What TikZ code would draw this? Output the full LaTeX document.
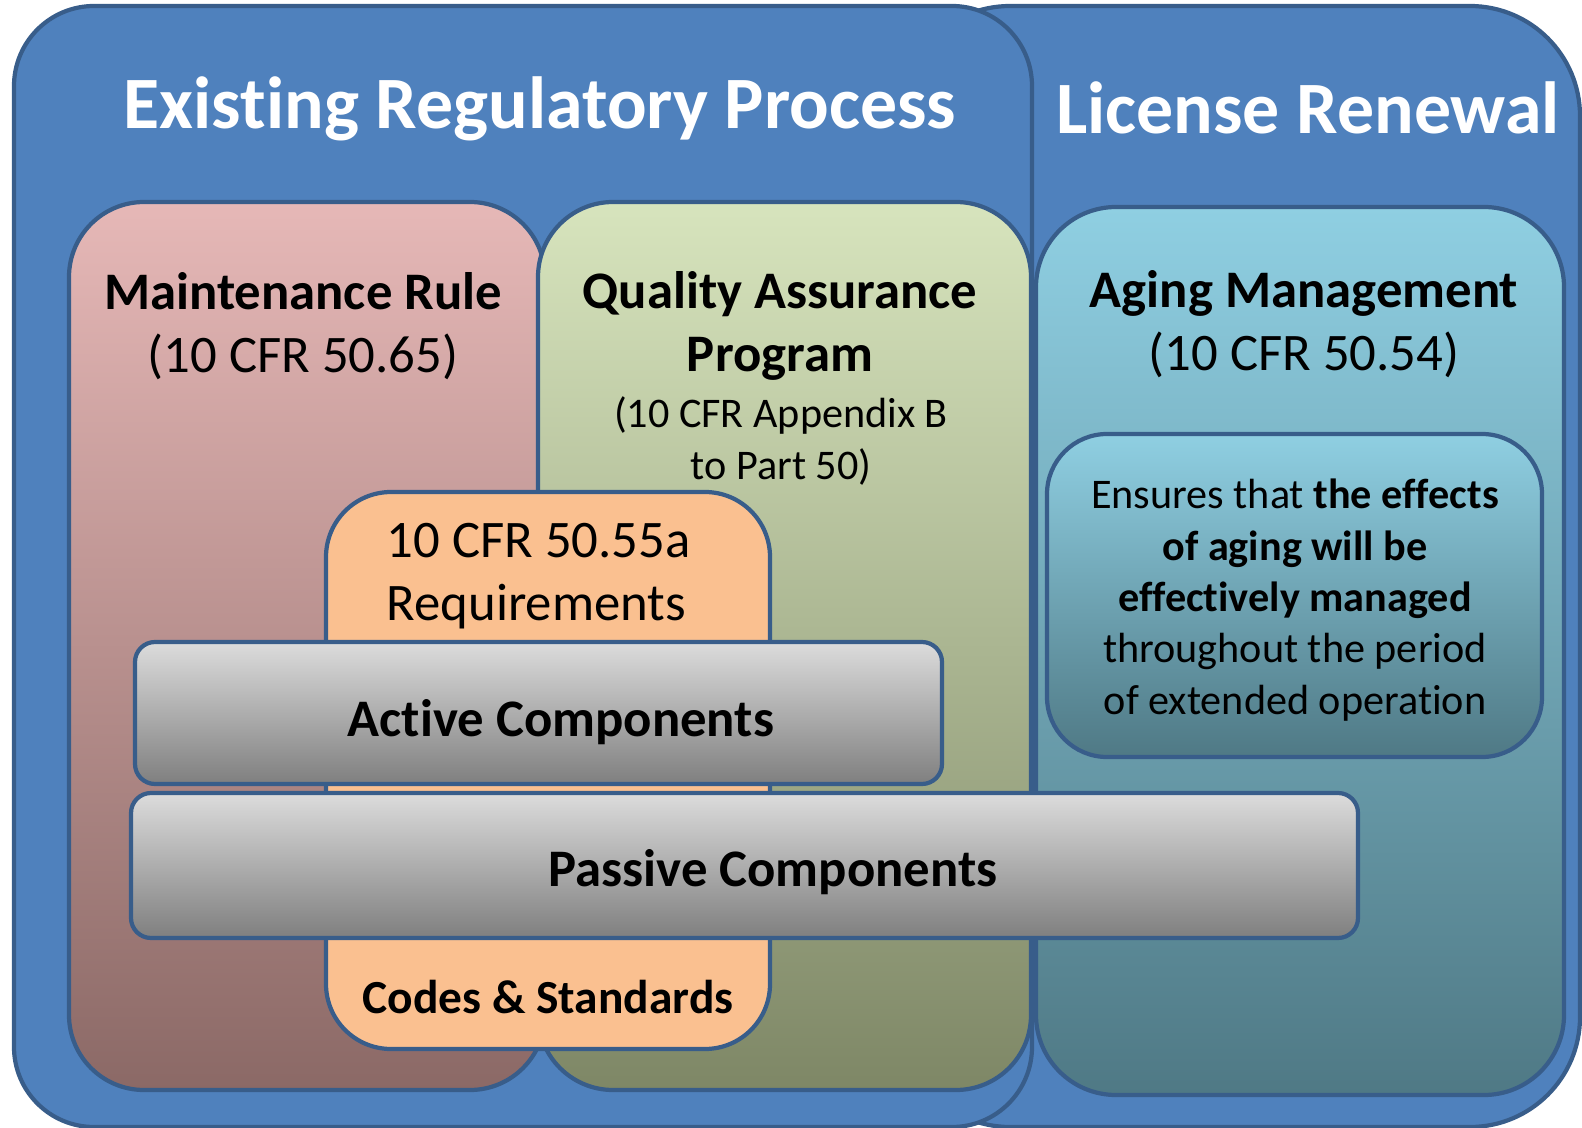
\documentclass[tikz,border=0pt]{standalone}
\usepackage{fontspec}
\setmainfont[Ligatures=NoCommon]{Carlito}
\definecolor{frame}{HTML}{385D8A}
\definecolor{panelblue}{HTML}{4F81BD}
\definecolor{mrTop}{HTML}{E6B8B7}
\definecolor{mrBot}{HTML}{8B6966}
\definecolor{qaTop}{HTML}{D7E4BD}
\definecolor{qaBot}{HTML}{7E8766}
\definecolor{amTop}{HTML}{8FCFE2}
\definecolor{amBot}{HTML}{4F7985}
\definecolor{barTop}{HTML}{DCDCDC}
\definecolor{barBot}{HTML}{7F7F7F}
\definecolor{reqfill}{HTML}{FAC090}
\newcommand{\bigtitle}{\fontsize{21}{25}\selectfont\bfseries}
\newcommand{\headfont}{\fontsize{15}{17.9}\selectfont}
\newcommand{\smallfont}{\fontsize{12}{14.6}\selectfont}
\begin{document}
\begin{tikzpicture}[x=0.01cm, y=-0.01cm,
    panel/.style={draw=frame, line width=1.2pt},
    bluepanel/.style={panel, fill=panelblue},
    greybar/.style={panel, rounded corners=0.2cm, top color=barTop, bottom color=barBot},
    label/.style={inner sep=0pt, align=center}]
    \useasboundingbox (0,0) rectangle (1582,1128);
    % outer frames
    \draw[bluepanel, rounded corners=1.1cm] (900,6) rectangle (1580,1127);
    \draw[bluepanel, rounded corners=0.8cm] (14,6) rectangle (1032,1127);
    % aging management
    \draw[panel, rounded corners=0.8cm, top color=amTop, bottom color=amBot] (1036,207) rectangle (1564,1095);
    \draw[panel, rounded corners=0.6cm, top color=amTop, bottom color=amBot] (1047,434) rectangle (1542,757);
    % existing process
    \draw[panel, rounded corners=0.75cm, top color=mrTop, bottom color=mrBot] (69,202) rectangle (545,1090);
    \draw[panel, rounded corners=0.75cm, top color=qaTop, bottom color=qaBot] (538,202) rectangle (1031,1090);
    \draw[panel, rounded corners=0.65cm, fill=reqfill] (326,492) rectangle (770,1049);
    \draw[greybar] (135,642) rectangle (942,784);
    \draw[greybar] (131,793) rectangle (1358,938);
    % texts
    \node[label, text=white, font=\bigtitle] (existing) at (540,109) {Existing Regulatory Process};
    \node[label, text=white, font=\bigtitle] (renewal) at (1308,108) {License Renewal};
    \node[label, font=\headfont] (mrule) at (303,326) {\textbf{Maintenance Rule}\\(10 CFR 50.65)};
    \node[label, font=\headfont\bfseries] (qatitle) at (780,326) {Quality Assurance\\Program};
    \node[label, font=\smallfont] (qaref) at (781,441) {(10 CFR Appendix B\\to Part 50)};
    \node[label, font=\headfont] (amtitle) at (1304,324) {\textbf{Aging Management}\\(10 CFR 50.54)};
    \node[label, font=\smallfont] (amtext) at (1295,600) {Ensures that \textbf{the effects}\\\textbf{of aging will be}\\\textbf{effectively managed}\\throughout the period\\of extended operation};
    \node[label, font=\headfont, anchor=west, align=left] (req) at (386,576) {10 CFR 50.55a\\Requirements};
    \node[label, font=\headfont\bfseries] (active) at (561,722) {Active Components};
    \node[label, font=\headfont\bfseries] (passive) at (773,872) {Passive Components};
    \node[label, font=\fontsize{13.5}{16}\selectfont\bfseries] (codes) at (548,997) {Codes \& Standards};
\end{tikzpicture}
\end{document}
